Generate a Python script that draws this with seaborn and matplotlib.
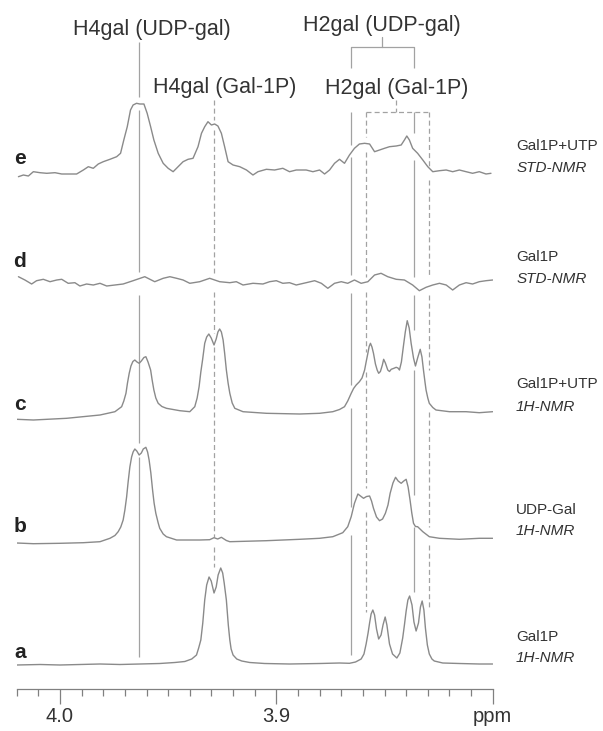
import matplotlib
matplotlib.use("Agg")
import matplotlib.pyplot as plt
import seaborn as sns

# ─────────────────────────────────────────────────────────────
# DADOS: deslocamento químico (ppm) e intensidade (u.a.) de cada espectro
# ─────────────────────────────────────────────────────────────

# a — Gal1P, 1H-NMR
ppm_a = [4.0200, 4.0092, 4.0000, 3.9908, 3.9815, 3.9723, 3.9631, 3.9539, 3.9469,
         3.9423, 3.9391, 3.9369, 3.9359, 3.9349, 3.9340, 3.9331, 3.9322, 3.9311,
         3.9301, 3.9288, 3.9278, 3.9269, 3.9257, 3.9248, 3.9241, 3.9231, 3.9222,
         3.9215, 3.9209, 3.9200, 3.9183, 3.9160, 3.9123, 3.9054, 3.8939, 3.8800,
         3.8708, 3.8662, 3.8634, 3.8608, 3.8595, 3.8585, 3.8576, 3.8569, 3.8562,
         3.8554, 3.8546, 3.8537, 3.8527, 3.8516, 3.8507, 3.8497, 3.8489, 3.8477,
         3.8463, 3.8443, 3.8429, 3.8416, 3.8408, 3.8400, 3.8392, 3.8384, 3.8373,
         3.8364, 3.8354, 3.8343, 3.8334, 3.8326, 3.8318, 3.8311, 3.8302, 3.8293,
         3.8281, 3.8270, 3.8231, 3.8154, 3.8062, 3.8000]
int_a = [0, 0.5, 0, 0.5, 1, 0.5, 1, 1.5, 2.5,
         3.5, 6, 10, 17, 25, 42, 65, 80, 88,
         84, 72, 78, 90, 97, 92, 82, 65, 40,
         25, 16, 10, 6, 4, 2.5, 1.5, 1, 1.5,
         2, 1.7, 3, 6, 11, 21, 32, 42, 51,
         55, 50, 36, 26, 30, 40, 48, 40, 21,
         11, 7, 12, 27, 40, 54, 65, 69, 60,
         43, 34, 42, 58, 64, 55, 37, 20, 11,
         6, 4, 2, 1.5, 1, 1]

# b — UDP-Gal, 1H-NMR
ppm_b = [4.0200, 4.0123, 4.0000, 3.9892, 3.9815, 3.9769, 3.9746, 3.9731, 3.9719,
         3.9708, 3.9700, 3.9692, 3.9685, 3.9677, 3.9669, 3.9662, 3.9654, 3.9645,
         3.9634, 3.9624, 3.9615, 3.9603, 3.9595, 3.9588, 3.9580, 3.9572, 3.9565,
         3.9557, 3.9546, 3.9539, 3.9523, 3.9508, 3.9461, 3.9354, 3.9308, 3.9288,
         3.9271, 3.9254, 3.9231, 3.9215, 3.9046, 3.8892, 3.8800, 3.8739, 3.8693,
         3.8670, 3.8654, 3.8639, 3.8623, 3.8611, 3.8597, 3.8583, 3.8569, 3.8560,
         3.8551, 3.8537, 3.8523, 3.8509, 3.8496, 3.8484, 3.8474, 3.8461, 3.8449,
         3.8437, 3.8423, 3.8411, 3.8400, 3.8391, 3.8382, 3.8374, 3.8366, 3.8357,
         3.8347, 3.8323, 3.8293, 3.8246, 3.8154, 3.8062, 3.8000]
int_b = [0, -0.7, -0.3, 0.3, 1.3, 4.7, 7.5, 11.3, 16,
         23, 33, 46, 61, 76, 86, 91, 94, 92,
         88, 90, 94, 95.7, 91, 83, 70, 53, 40,
         29.7, 20, 14.7, 9, 6.3, 3, 3, 3.3, 5.3,
         4, 5.7, 2.5, 1.3, 2.3, 3.7, 4.7, 6.3, 10.3,
         16.3, 26.3, 39.7, 49, 47, 44.7, 46.5, 47, 42,
         34.7, 26, 22.3, 24, 29.7, 38, 49.7, 60, 65.7,
         62, 59.7, 62, 63.7, 56, 43, 30, 19.7, 16.5,
         16.3, 11.3, 6.3, 4.7, 3.7, 4.7, 4.7]

# c — Gal1P+UTP, 1H-NMR
ppm_c = [4.0200, 4.0123, 3.9969, 3.9815, 3.9746, 3.9715, 3.9705, 3.9695, 3.9688,
         3.9680, 3.9672, 3.9663, 3.9654, 3.9644, 3.9634, 3.9624, 3.9612, 3.9603,
         3.9593, 3.9581, 3.9574, 3.9566, 3.9557, 3.9546, 3.9529, 3.9508, 3.9446,
         3.9400, 3.9377, 3.9366, 3.9357, 3.9349, 3.9341, 3.9331, 3.9322, 3.9312,
         3.9301, 3.9288, 3.9278, 3.9270, 3.9262, 3.9254, 3.9246, 3.9239, 3.9231,
         3.9223, 3.9215, 3.9204, 3.9192, 3.9154, 3.9046, 3.8892, 3.8800, 3.8739,
         3.8708, 3.8685, 3.8670, 3.8654, 3.8643, 3.8631, 3.8616, 3.8604, 3.8592,
         3.8585, 3.8577, 3.8571, 3.8565, 3.8558, 3.8551, 3.8542, 3.8534, 3.8527,
         3.8519, 3.8510, 3.8504, 3.8496, 3.8485, 3.8477, 3.8469, 3.8459, 3.8446,
         3.8438, 3.8431, 3.8422, 3.8413, 3.8404, 3.8395, 3.8386, 3.8377, 3.8366,
         3.8357, 3.8347, 3.8335, 3.8327, 3.8320, 3.8313, 3.8308, 3.8300, 3.8293,
         3.8277, 3.8262, 3.8200, 3.8123, 3.8062, 3.8000]
int_c = [0.7, 0, 1.7, 5, 8.3, 13.3, 19, 26.7, 37,
         46.7, 54, 58.5, 60, 58, 56.7, 59, 62.5, 63.3,
         58, 50, 40, 30, 22, 16.7, 13.5, 11.7, 9.3,
         8.3, 13.3, 22, 33.3, 48, 60, 76.7, 83, 86,
         82, 75, 81, 88, 91, 88, 80, 67, 50,
         37, 26.7, 17, 11.7, 8.3, 6.7, 6, 6.7, 8.3,
         10.5, 13.3, 19, 26.7, 31.5, 35, 38.3, 42, 50,
         58, 66.7, 73.5, 76.7, 73, 66.7, 56, 50, 46.7,
         48.5, 55, 60.7, 57, 50, 48.5, 50.7, 51.5, 52.7,
         52, 50, 58, 73.3, 88, 99.3, 92, 76.7, 62,
         54, 62, 70.7, 63, 50, 38, 30, 22, 16.7,
         12.5, 10, 8.3, 8.3, 7.3, 8.3]

# d — Gal1P, STD-NMR
ppm_d = [4.0192, 4.0162, 4.0131, 4.0108, 4.0077, 4.0046, 4.0015, 3.9992, 3.9962,
         3.9931, 3.9908, 3.9877, 3.9846, 3.9815, 3.9784, 3.9746, 3.9708, 3.9662,
         3.9608, 3.9562, 3.9523, 3.9492, 3.9461, 3.9431, 3.9400, 3.9354, 3.9308,
         3.9262, 3.9215, 3.9185, 3.9154, 3.9108, 3.9062, 3.9031, 3.9000, 3.8970,
         3.8939, 3.8908, 3.8862, 3.8823, 3.8792, 3.8762, 3.8731, 3.8700, 3.8670,
         3.8639, 3.8608, 3.8577, 3.8546, 3.8516, 3.8485, 3.8446, 3.8408, 3.8370,
         3.8339, 3.8308, 3.8277, 3.8246, 3.8215, 3.8185, 3.8154, 3.8123, 3.8093,
         3.8062, 3.8031, 3.8000]
int_d = [6.3, 3, -1, 2.3, 3.7, 1.3, 3, 3.7, -0.3,
         0.3, -3, -1, -2, -0.3, -3, -2, -1, 2.3,
         6.3, 1.3, 4.7, 6.3, 4.7, 3, -0.3, 1.3, 4.7,
         1.3, 0.3, 1.3, -2, -0.3, -1, 1.3, 2.3, -0.3,
         0.3, -2, 0.3, 2.3, -0.3, -5.3, -0.3, 1.3, -0.3,
         3, -0.3, 1.3, 8, 9.7, 6.3, 3.7, 3, -2,
         -7.7, -4.3, -2, -0.3, -2, -7, -2, 0.3, -1,
         1.3, 2.3, 3]

# e — Gal1P+UTP, STD-NMR
ppm_e = [4.0192, 4.0169, 4.0146, 4.0123, 4.0092, 4.0061, 4.0023, 3.9992, 3.9954,
         3.9923, 3.9892, 3.9869, 3.9846, 3.9823, 3.9800, 3.9769, 3.9738, 3.9720,
         3.9705, 3.9689, 3.9674, 3.9662, 3.9646, 3.9631, 3.9612, 3.9597, 3.9581,
         3.9566, 3.9546, 3.9523, 3.9500, 3.9477, 3.9454, 3.9431, 3.9408, 3.9385,
         3.9362, 3.9346, 3.9331, 3.9316, 3.9300, 3.9285, 3.9270, 3.9254, 3.9239,
         3.9223, 3.9200, 3.9169, 3.9138, 3.9108, 3.9085, 3.9046, 3.9008, 3.8970,
         3.8939, 3.8908, 3.8862, 3.8831, 3.8800, 3.8777, 3.8754, 3.8731, 3.8708,
         3.8685, 3.8662, 3.8639, 3.8616, 3.8592, 3.8569, 3.8546, 3.8523, 3.8500,
         3.8477, 3.8446, 3.8423, 3.8408, 3.8397, 3.8385, 3.8370, 3.8347, 3.8323,
         3.8300, 3.8277, 3.8246, 3.8215, 3.8185, 3.8154, 3.8123, 3.8093, 3.8062,
         3.8031, 3.8008]
int_e = [-1.7, 0, -1, 3.3, 2.3, 1.7, 2.3, 1, 1,
         1, 5, 8.3, 6.7, 11, 13.3, 15.7, 18.3, 21.7,
         35, 48.3, 65, 70, 71.7, 71, 71, 61.7, 48.3,
         35, 21.7, 11.7, 6.7, 3.3, 8.3, 13.3, 15.7, 16.7,
         28.3, 41.7, 48.3, 53.3, 50, 51, 49, 41.7, 28.3,
         13.3, 10, 8.3, 5, 0, 3.3, 5.7, 5, 6.7,
         3.3, 5, 5, 3.3, 5, 1, 5, 11.7, 15.7,
         11.7, 20, 26.7, 31, 31.7, 31, 23.3, 25, 26.7,
         28.3, 29, 30, 35, 39, 35, 26.7, 21.7, 15,
         8.3, 3.3, 4.3, 5, 3.3, 5, 3.3, 1.7, 3.3,
         1, 1.7]

letras   = ["a", "b", "c", "d", "e"]
amostras = ["Gal1P", "UDP-Gal", "Gal1P+UTP", "Gal1P", "Gal1P+UTP"]
metodos  = ["1H-NMR", "1H-NMR", "1H-NMR", "STD-NMR", "STD-NMR"]

# deslocamentos atribuídos (ppm)
h4_udp   = 3.9634
h4_gal1p = 3.9288
h2_udp   = [3.8654, 3.8365]
h2_gal1p = [3.8585, 3.8293]

# ─────────────────────────────────────────────────────────────
# LAYOUT
# ─────────────────────────────────────────────────────────────

TOPO = 689.3                      # altura do eixo em px (y=0 no eixo ppm)
def py(y_img):
    """converte posição vertical da figura (px, de cima) para o eixo."""
    return TOPO - y_img

offsets  = [py(665), py(543), py(420), py(283), py(175)]        # linha de base a..e
pos_let  = [py(652.7), py(526.7), py(405), py(261.7), py(158.3)]
pos_lin1 = [py(636.7), py(510), py(384), py(256.7), py(146)]
pos_lin2 = [py(658.3), py(531), py(406.7), py(279.3), py(168.3)]

COR_TRACO = "#8a8a8a"
COR_REF   = "#a2a2a2"
COR_TEXTO = "#333333"

sns.set_theme(style="white")
plt.rcParams["font.family"] = ["Liberation Sans", "DejaVu Sans"]

fig = plt.figure(figsize=(6.03, 7.31), dpi=100)
ax = fig.add_axes([16.7 / 603, 1 - TOPO / 731, (492.7 - 16.7) / 603, TOPO / 731])

espectros = [(ppm_a, int_a), (ppm_b, int_b), (ppm_c, int_c), (ppm_d, int_d), (ppm_e, int_e)]

# linhas de referência (segmentos verticais, interrompidos nos espectros)
solidas = [
    (h4_udp,    [(41.7, 96.7), (110, 271.7), (295, 443), (457, 656.7)]),
    (h2_udp[0], [(46.7, 68.3), (111.7, 145), (156.7, 275), (293.3, 385), (408, 506.7), (535, 655)]),
    (h2_udp[1], [(46.7, 68.3), (111.7, 133.3), (160, 276.7), (295, 330), (370, 495), (526.7, 591.7)]),
]
tracejadas = [
    (h4_gal1p,    [(100, 120), (130, 273.3), (291.7, 333.3), (346.7, 536.7), (546.7, 566.7)]),
    (h2_gal1p[0], [(111.7, 136.7), (151.7, 276.7), (291.7, 351.7), (372, 488.3), (511.7, 611.7)]),
    (h2_gal1p[1], [(111.7, 166.7), (180, 276.7), (295, 370), (411.7, 526.7), (545, 610)]),
]
for x, segs in solidas:
    for y0, y1 in segs:
        ax.plot([x, x], [py(y0), py(y1)], color=COR_REF, lw=0.9, solid_capstyle="butt")
for x, segs in tracejadas:
    for y0, y1 in segs:
        ax.plot([x, x], [py(y0), py(y1)], color=COR_REF, lw=0.9, ls=(0, (4, 2.5)))

# colchetes do H2gal
meio_udp = 3.8510
meio_gal = 3.8446
ax.plot(h2_udp, [py(46.7), py(46.7)], color=COR_REF, lw=0.9)
ax.plot([meio_udp, meio_udp], [py(36.7), py(46.7)], color=COR_REF, lw=0.9)
ax.plot(h2_gal1p, [py(111.7), py(111.7)], color=COR_REF, lw=0.9, ls=(0, (4, 2.5)))
ax.plot([meio_gal, meio_gal], [py(100), py(111.7)], color=COR_REF, lw=0.9, ls=(0, (4, 2.5)))

# espectros empilhados
for (xs, ys), off in zip(espectros, offsets):
    sns.lineplot(x=xs, y=[v + off for v in ys], ax=ax, color=COR_TRACO,
                 linewidth=1.0, sort=False, estimator=None)

# rótulos das atribuições
fs_top = 15.5
ax.text(3.9577, py(30), "H4gal (UDP-gal)", ha="center", va="center", fontsize=fs_top, color=COR_TEXTO)
ax.text(3.9239, py(87.3), "H4gal (Gal-1P)", ha="center", va="center", fontsize=fs_top, color=COR_TEXTO)
ax.text(meio_udp, py(25), "H2gal (UDP-gal)", ha="center", va="center", fontsize=fs_top, color=COR_TEXTO)
ax.text(meio_gal, py(88.3), "H2gal (Gal-1P)", ha="center", va="center", fontsize=fs_top, color=COR_TEXTO)

# letras e legendas à direita
for i in range(len(letras)):
    ax.text(4.0185, pos_let[i], letras[i], ha="center", va="center", fontsize=15,
            fontweight="bold", color="#222222", clip_on=False)
    ax.text(3.7892, pos_lin1[i], amostras[i], ha="left", va="center", fontsize=11,
            color=COR_TEXTO, clip_on=False)
    ax.text(3.7892, pos_lin2[i], metodos[i], ha="left", va="center", fontsize=11,
            style="italic", color=COR_TEXTO, clip_on=False)

# eixo ppm
ax.set_xlim(4.02, 3.80)
ax.set_ylim(0, TOPO)
ax.set_xticks([4.0, 3.9, 3.8])
ax.set_xticklabels(["4.0", "3.9", "ppm"])
ax.set_xticks([4.02 - 0.01 * i for i in range(23)], minor=True)
ax.tick_params(axis="x", which="major", direction="out", length=11, width=0.9,
               color="#808080", labelsize=14.5, labelcolor=COR_TEXTO, pad=2, bottom=True)
ax.tick_params(axis="x", which="minor", direction="out", length=5, width=0.9,
               color="#808080", bottom=True)
ax.set_yticks([])
ax.set_xlabel("")
ax.set_ylabel("")
for lado in ["top", "left", "right"]:
    ax.spines[lado].set_visible(False)
ax.spines["bottom"].set_color("#808080")
ax.spines["bottom"].set_linewidth(0.9)

fig.savefig("out.png", dpi=100)
